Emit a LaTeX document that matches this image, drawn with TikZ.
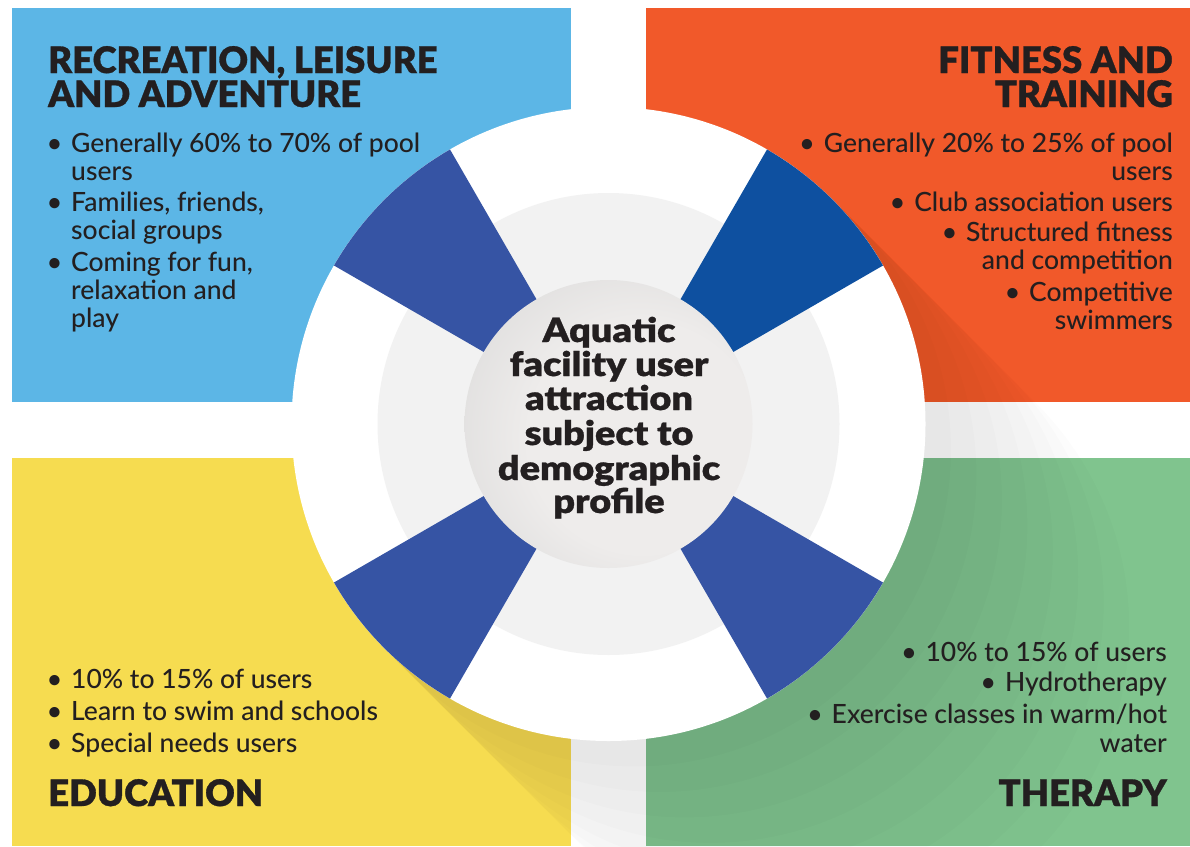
\documentclass[tikz,border=0pt]{standalone}
\usepackage{fontspec}
\usepackage{graphicx}
\setmainfont{Lato}[UprightFont={* Medium}, BoldFont={* Black}, BoldFeatures={FakeBold=0.8}]
\usetikzlibrary{calc}
\definecolor{rectblue}{RGB}{92,182,230}
\definecolor{rectorange}{RGB}{241,89,42}
\definecolor{rectyellow}{RGB}{246,220,80}
\definecolor{rectgreen}{RGB}{128,196,142}
\definecolor{spokeblue}{RGB}{54,84,164}
\definecolor{spokedark}{RGB}{14,80,160}
\definecolor{ringgray}{RGB}{242,242,242}
\definecolor{disklight}{RGB}{238,236,235}
\definecolor{diskdark}{RGB}{208,208,208}
\definecolor{ink}{RGB}{35,31,32}
\pgfdeclareradialshading{diskshade}{\pgfpoint{10bp}{-4bp}}{color(0bp)=(disklight); color(20bp)=(disklight); color(46bp)=(diskdark); color(50bp)=(diskdark)}
\tikzset{
  txt/.style={inner sep=0pt, text=ink, font=\fontsize{26.5}{28}\selectfont},
  headtxt/.style={inner sep=0pt, text=ink, font=\fontsize{36.5}{36}\selectfont\bfseries},
  ctrtxt/.style={inner sep=0pt, text=ink, font=\fontsize{33.5}{33}\selectfont\bfseries, anchor=base},
  spoke/.style={fill=spokeblue},
  shadowlayer/.style={fill=black, opacity=0.0118},
}
\newcommand{\wide}[1]{\scalebox{1.13}[1]{#1}}
\begin{document}
\begin{tikzpicture}[x=1pt,y=-1pt]
\useasboundingbox (0,0) rectangle (1190,846);
\fill[white] (0,0) rectangle (1190,846);
% quadrant panels
\fill[rectblue] (12,8) rectangle (571,402);
\fill[rectorange] (646,8) rectangle (1190,402);
\fill[rectyellow] (12,458) rectangle (571,846);
\fill[rectgreen] (646,458) rectangle (1190,846);
\coordinate (C) at (608.5,424);
% long shadow of the ring
\foreach \k in {1,...,8}{
  \pgfmathsetmacro\s{36*\k*0.7071}
  \fill[shadowlayer] (C) ++(-45:317) -- ++(\s,\s) arc[start angle=-45, end angle=135, radius=317] -- ++(-\s,-\s) -- cycle;
}
% ring
\fill[white] (C) circle[radius=317];
\fill[ringgray] (C) circle[radius=231];
% spokes
\fill[spokedark] (C) -- ++(-60:317) arc[start angle=-60, end angle=-30, radius=317] -- cycle;
\fill[spoke] (C) -- ++(-150:317) arc[start angle=-150, end angle=-120, radius=317] -- cycle;
\fill[spoke] (C) -- ++(30:317) arc[start angle=30, end angle=60, radius=317] -- cycle;
\fill[spoke] (C) -- ++(120:317) arc[start angle=120, end angle=150, radius=317] -- cycle;
% centre disk
\shade[shading=diskshade] (C) circle[radius=144];
% centre text
\node[ctrtxt] (c1) at (609,342) {\wide{Aquatic}};
\node[ctrtxt] (c2) at (609,376) {\wide{facility user}};
\node[ctrtxt] (c3) at (609,410) {\wide{attraction}};
\node[ctrtxt] (c4) at (609,445) {\wide{subject to}};
\node[ctrtxt] (c5) at (609,480) {\wide{demographic}};
\node[ctrtxt] (c6) at (609,513) {\wide{profile}};
% top-left panel
\node[headtxt, anchor=base west] (tlh1) at (48,73) {RECREATION, LEISURE};
\node[headtxt, anchor=base west] (tlh2) at (48,107) {AND ADVENTURE};
\node[txt, anchor=base] (tlb1) at (54.5,152) {\textbullet};
\node[txt, anchor=base west] (tl1) at (71,152) {Generally 60\% to 70\% of pool};
\node[txt, anchor=base west] (tl2) at (71,180) {users};
\node[txt, anchor=base] (tlb2) at (54.5,211) {\textbullet};
\node[txt, anchor=base west] (tl3) at (71,211) {Families, friends,};
\node[txt, anchor=base west] (tl4) at (71,239) {social groups};
\node[txt, anchor=base] (tlb3) at (54.5,271) {\textbullet};
\node[txt, anchor=base west] (tl5) at (71,271) {Coming for fun,};
\node[txt, anchor=base west] (tl6) at (71,299) {relaxation and};
\node[txt, anchor=base west] (tl7) at (71,327) {play};
% top-right panel
\node[headtxt, anchor=base east] (trh1) at (1173,73) {FITNESS AND};
\node[headtxt, anchor=base east] (trh2) at (1173,107) {TRAINING};
\node[txt, anchor=base east] (tr1) at (1173,152) {\textbullet\hspace{9pt}Generally 20\% to 25\% of pool};
\node[txt, anchor=base east] (tr2) at (1173,180) {users};
\node[txt, anchor=base east] (tr3) at (1173,211) {\textbullet\hspace{9pt}Club association users};
\node[txt, anchor=base east] (tr4) at (1173,241) {\textbullet\hspace{9pt}Structured fitness};
\node[txt, anchor=base east] (tr5) at (1173,269) {and competition};
\node[txt, anchor=base east] (tr6) at (1173,301) {\textbullet\hspace{9pt}Competitive};
\node[txt, anchor=base east] (tr7) at (1173,329) {swimmers};
% bottom-left panel
\node[txt, anchor=base] (blb1) at (54.5,688) {\textbullet};
\node[txt, anchor=base west] (bl1) at (71,688) {10\% to 15\% of users};
\node[txt, anchor=base] (blb2) at (54.5,720) {\textbullet};
\node[txt, anchor=base west] (bl2) at (71,720) {Learn to swim and schools};
\node[txt, anchor=base] (blb3) at (54.5,752) {\textbullet};
\node[txt, anchor=base west] (bl3) at (71,752) {Special needs users};
\node[headtxt, anchor=base west] (blh) at (48,806) {EDUCATION};
% bottom-right panel
\node[txt, anchor=base east] (br1) at (1167,661) {\textbullet\hspace{9pt}10\% to 15\% of users};
\node[txt, anchor=base east] (br2) at (1167,691) {\textbullet\hspace{9pt}Hydrotherapy};
\node[txt, anchor=base east] (br3) at (1167,723) {\textbullet\hspace{9pt}Exercise classes in warm/hot};
\node[txt, anchor=base east] (br4) at (1167,752) {water};
\node[headtxt, anchor=base east] (brh) at (1167,806) {THERAPY};
\end{tikzpicture}
\end{document}
